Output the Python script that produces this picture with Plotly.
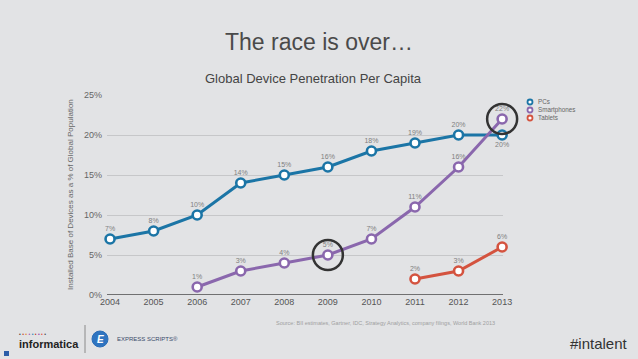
import plotly.graph_objects as go

years = [2004, 2005, 2006, 2007, 2008, 2009, 2010, 2011, 2012, 2013]
pcs = [7, 8, 10, 14, 15, 16, 18, 19, 20, 20]
smart_years = [2006, 2007, 2008, 2009, 2010, 2011, 2012, 2013]
smartphones = [1, 3, 4, 5, 7, 11, 16, 22]
tablet_years = [2011, 2012, 2013]
tablets = [2, 3, 6]
y_ticks = [0, 5, 10, 15, 20, 25]
y_ticklabels = ["0%", "5%", "10%", "15%", "20%", "25%"]
highlights = [(2009, 5), (2013, 22)]
leg_names = ["PCs", "Smartphones", "Tablets"]

C_PC = "#1b75a6"
C_SM = "#8a67ad"
C_TB = "#d4533f"

X_RANGE = [2003.93, 2013.02]
Y_RANGE = [0, 25]

fig = go.Figure()

def add_series(xs, ys, color, name, pos_override=None):
    positions = ["top center"] * len(xs)
    if pos_override:
        for i, p in pos_override.items():
            positions[i] = p
    fig.add_trace(go.Scatter(
        x=xs, y=ys, name=name, mode="lines+markers+text",
        line=dict(color=color, width=3),
        marker=dict(size=9, color="white", line=dict(color=color, width=2.6)),
        text=[f"{v}%" for v in ys], textposition=positions,
        textfont=dict(size=7, color="#808080", family="Liberation Sans"),
        cliponaxis=False, showlegend=False,
    ))

add_series(years, pcs, C_PC, "PCs", {9: "bottom center"})
add_series(smart_years, smartphones, C_SM, "Smartphones")
add_series(tablet_years, tablets, C_TB, "Tablets")

shapes = []
for hx, hy in highlights:
    px_ = (hx - X_RANGE[0]) / (X_RANGE[1] - X_RANGE[0])
    py_ = (hy - Y_RANGE[0]) / (Y_RANGE[1] - Y_RANGE[0])
    shapes.append(dict(type="circle", xref="paper", yref="paper", xsizemode="pixel", ysizemode="pixel",
                       xanchor=px_, yanchor=py_, x0=-15, x1=15, y0=-15, y1=15,
                       line=dict(color="#333333", width=2.5)))

# bottom axis line
shapes.append(dict(type="line", xref="paper", yref="y", x0=0, x1=1, y0=0, y1=0,
                   line=dict(color="#4a4a4a", width=1.5)))

# legend (manual)
leg_colors = [C_PC, C_SM, C_TB]
annotations = []
for i, col in enumerate(leg_colors):
    ypx = 102 + 8 * i
    ypaper = 1 - (ypx - 95) / 200
    xpaper = (530 - 107) / 396
    shapes.append(dict(type="circle", xref="paper", yref="paper", xsizemode="pixel", ysizemode="pixel",
                       xanchor=xpaper, yanchor=ypaper, x0=-2.5, x1=2.5, y0=-2.5, y1=2.5,
                       line=dict(color=col, width=1.8), fillcolor="white"))
annotations.append(dict(xref="paper", yref="paper", x=(537 - 107) / 396, y=1 - (110 - 95) / 200,
                        text="<br>".join(leg_names), showarrow=False, xanchor="left", yanchor="middle",
                        align="left", borderpad=0,
                        font=dict(size=6.3, color="#666666", family="Liberation Sans")))

# titles and footer texts
annotations += [
    dict(xref="paper", yref="paper", x=(319 - 107) / 396, y=1 + (95 - 42) / 200, text="The race is over…",
         showarrow=False, xanchor="center", yanchor="middle",
         font=dict(size=23, color="#4a4a4a", family="Liberation Sans")),
    dict(xref="paper", yref="paper", x=(313 - 107) / 396, y=1 + (95 - 78) / 200,
         text="Global Device Penetration Per Capita",
         showarrow=False, xanchor="center", yanchor="middle",
         font=dict(size=13, color="#444444", family="Liberation Sans")),
    dict(xref="paper", yref="paper", x=(70 - 107) / 396, y=0.5,
         text="Installed Base of Devices as a % of Global Population", textangle=-90,
         showarrow=False, xanchor="center", yanchor="middle",
         font=dict(size=8, color="#666666", family="Liberation Sans")),
    dict(xref="paper", yref="paper", x=(385 - 107) / 396, y=-(323 - 295) / 200,
         text="Source: BII estimates, Gartner, IDC, Strategy Analytics, company filings, World Bank 2013",
         showarrow=False, xanchor="center", yanchor="middle",
         font=dict(size=5.5, color="#a0a0a0", family="Liberation Sans")),
    dict(xref="paper", yref="paper", x=(630 - 107) / 396, y=-(343 - 295) / 200,
         text="#intalent", showarrow=False, xanchor="right", yanchor="middle",
         font=dict(size=15, color="#333333", family="Liberation Sans")),
    dict(xref="paper", yref="paper", x=(17 - 107) / 396, y=-(344 - 295) / 200,
         text="<b>informatica</b>", showarrow=False, xanchor="left", yanchor="middle",
         font=dict(size=11, color="#222222", family="Liberation Sans")),
    dict(xref="paper", yref="paper", x=(17 - 107) / 396, y=-(334 - 295) / 200,
         text="<span style='color:#444'>•</span> <span style='color:#c0392b'>•</span> <span style='color:#e67e22'>•</span> <span style='color:#9b59b6'>•</span> <span style='color:#2980b9'>•</span> <span style='color:#c0392b'>•</span> <span style='color:#8e44ad'>•</span> <span style='color:#e74c3c'>•</span> <span style='color:#444'>•</span>",
         showarrow=False, xanchor="left", yanchor="middle",
         font=dict(size=5, color="#9a3a5a", family="Liberation Sans")),
    dict(xref="paper", yref="paper", x=(115 - 107) / 396, y=-(339 - 295) / 200,
         text="EXPRESS SCRIPTS®", showarrow=False, xanchor="left", yanchor="middle",
         font=dict(size=6, color="#3a4a6a", family="Liberation Sans")),
    dict(xref="paper", yref="paper", x=(100 - 107) / 396, y=-(339 - 295) / 200,
         text="<i><b>E</b></i>", showarrow=False, xanchor="center", yanchor="middle",
         font=dict(size=10, color="white", family="Liberation Sans")),
]

# logo shapes
shapes.append(dict(type="line", xref="paper", yref="paper",
                   x0=(85 - 107) / 396, x1=(85 - 107) / 396,
                   y0=-(325 - 295) / 200, y1=-(353 - 295) / 200,
                   line=dict(color="#8a8a8a", width=1)))
shapes.append(dict(type="circle", xref="paper", yref="paper", xsizemode="pixel", ysizemode="pixel",
                   xanchor=(100 - 107) / 396, yanchor=-(339 - 295) / 200, x0=-8, x1=8, y0=-8, y1=8,
                   line=dict(color="#2a6db8", width=1), fillcolor="#2f74c0"))
shapes.append(dict(type="rect", xref="paper", yref="paper",
                   x0=(4 - 107) / 396, x1=(9 - 107) / 396,
                   y0=-(351 - 295) / 200, y1=-(356 - 295) / 200,
                   line=dict(width=0), fillcolor="#2a5da8"))

fig.update_layout(
    width=638, height=359,
    margin=dict(l=107, r=135, t=95, b=64),
    paper_bgcolor="#e2e3e5", plot_bgcolor="rgba(0,0,0,0)",
    showlegend=False,
    font=dict(family="Liberation Sans", color="#555555"),
    xaxis=dict(range=X_RANGE, tickmode="array", tickvals=years,
               ticktext=[str(y) for y in years], showgrid=False, zeroline=False,
               showline=False, ticks="", tickfont=dict(size=9, color="#555555")),
    yaxis=dict(range=Y_RANGE, tickmode="array", tickvals=y_ticks, ticktext=y_ticklabels,
               showgrid=True, gridcolor="#c6c7c9", gridwidth=1, zeroline=False,
               showline=False, ticks="", ticklabelstandoff=4,
               tickfont=dict(size=9, color="#666666")),
    shapes=shapes, annotations=annotations,
)

fig.write_html("out.html", config={"displayModeBar": False},
               post_script="document.body.style.margin='0';document.body.style.overflow='hidden';")
